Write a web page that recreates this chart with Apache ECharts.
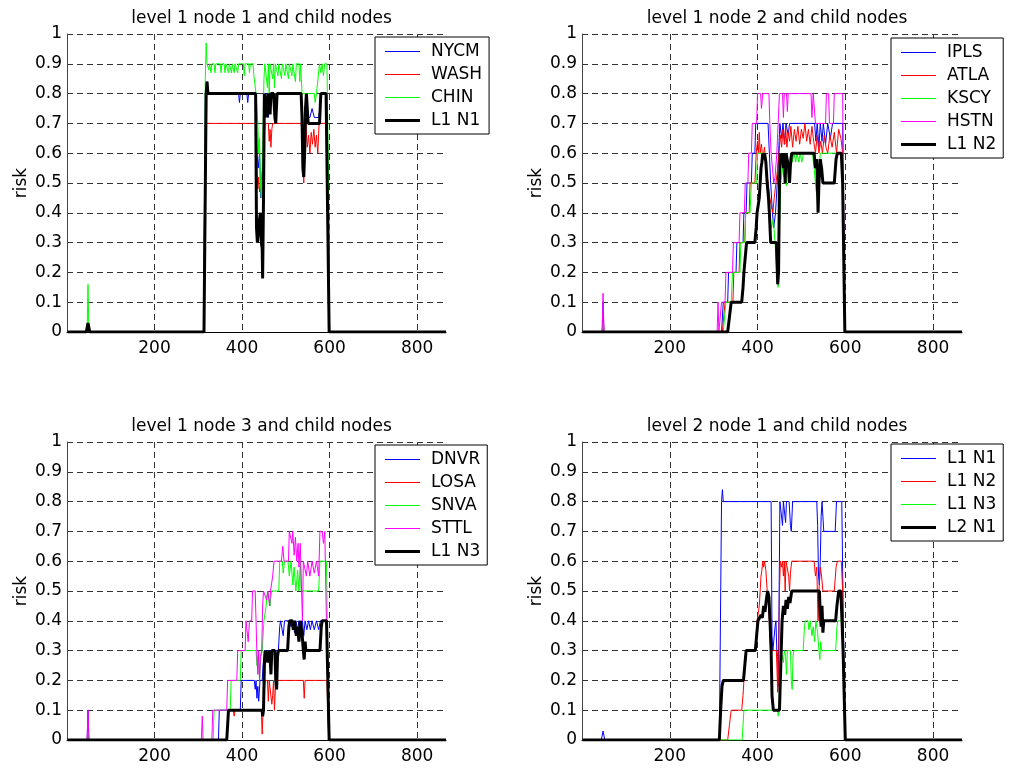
<!DOCTYPE html>
<html>
<head>
<meta charset="utf-8">
<title>Risk by node</title>
<script src="https://cdn.jsdelivr.net/npm/echarts@6/dist/echarts.min.js"></script>
<style>
  html, body { margin: 0; padding: 0; background: #fff; }
  #chart { width: 1011px; height: 769px; }
</style>
</head>
<body>
<div id="chart"></div>
<script>
// Risk over time, [t, risk] pairs. Level-1 node 1 and its child nodes.
const nycm = [[1,0],[46,0],[48,0.03],[50,0],[312,0],[316,0.8],[320,0.84],[323,0.8],[392,0.8],[394,0.77],[396,0.8],[411,0.8],[413,0.77],[415,0.8],[432,0.8],[434,0.6],[437,0.55],[440,0.6],[443,0.45],[446,0.5],[449,0.62],[452,0.8],[458,0.8],[460,0.72],[462,0.8],[472,0.8],[474,0.73],[476,0.8],[535,0.8],[538,0.75],[541,0.55],[543,0.7],[546,0.8],[550,0.72],[555,0.72],[560,0.75],[565,0.72],[575,0.72],[578,0.75],[580,0.8],[594,0.8],[597,0.4],[600,0],[866,0]];
const wash = [[1,0],[46,0],[48,0.02],[50,0],[312,0],[316,0.7],[432,0.7],[434,0.55],[436,0.48],[438,0.52],[440,0.47],[443,0.5],[447,0.55],[450,0.65],[453,0.7],[460,0.7],[462,0.64],[464,0.68],[466,0.62],[468,0.68],[470,0.7],[535,0.7],[538,0.65],[541,0.5],[543,0.65],[546,0.7],[549,0.62],[552,0.66],[555,0.6],[558,0.67],[561,0.63],[564,0.68],[567,0.62],[570,0.66],[573,0.6],[576,0.7],[594,0.7],[598,0.35],[600,0],[866,0]];
const chin = [[1,0],[46,0],[48,0.16],[50,0],[312,0],[314,0.1],[316,0.85],[318,0.97],[320,0.9],[324,0.88],[326,0.9],[329,0.87],[331,0.9],[336,0.9],[338,0.87],[340,0.9],[350,0.9],[352,0.87],[354,0.9],[359,0.9],[361,0.87],[363,0.9],[367,0.9],[369,0.87],[371,0.9],[374,0.9],[376,0.87],[378,0.9],[380,0.9],[382,0.87],[384,0.9],[388,0.9],[390,0.87],[392,0.9],[403,0.9],[405,0.86],[407,0.9],[415,0.9],[417,0.87],[419,0.9],[425,0.9],[427,0.86],[430,0.86],[432,0.8],[436,0.7],[438,0.6],[440,0.65],[442,0.5],[444,0.45],[447,0.6],[450,0.85],[452,0.9],[456,0.9],[458,0.82],[460,0.9],[462,0.8],[464,0.9],[468,0.9],[470,0.85],[472,0.9],[474,0.82],[476,0.9],[480,0.9],[482,0.86],[484,0.9],[488,0.9],[490,0.85],[492,0.9],[496,0.9],[498,0.86],[500,0.9],[504,0.9],[506,0.85],[508,0.9],[512,0.9],[514,0.86],[516,0.9],[520,0.9],[522,0.84],[524,0.9],[530,0.9],[532,0.84],[534,0.9],[537,0.8],[560,0.8],[565,0.8],[567,0.77],[570,0.8],[574,0.8],[577,0.9],[580,0.87],[583,0.9],[586,0.86],[589,0.9],[594,0.9],[598,0.45],[600,0],[866,0]];
const l1n1 = [[1,0],[44,0],[48,0.03],[52,0],[313,0],[318,0.8],[320,0.84],[322,0.8],[431,0.8],[433,0.35],[435,0.3],[438,0.3],[440,0.38],[442,0.4],[444,0.3],[446,0.28],[447,0.18],[449,0.45],[451,0.8],[455,0.8],[457,0.72],[459,0.8],[462,0.8],[464,0.73],[466,0.8],[472,0.8],[475,0.72],[477,0.7],[480,0.8],[535,0.8],[537,0.72],[539,0.55],[541,0.52],[543,0.6],[545,0.75],[547,0.8],[549,0.8],[551,0.7],[577,0.7],[580,0.8],[592,0.8],[599,0],[866,0]];

// Level-1 node 2 and its child nodes.
const ipls = [[1,0],[46,0],[48,0.1],[50,0],[318,0],[322,0.1],[332,0.1],[334,0.2],[351,0.2],[353,0.3],[367,0.3],[369,0.4],[374,0.4],[376,0.5],[386,0.5],[388,0.6],[394,0.6],[396,0.7],[424,0.7],[427,0.6],[430,0.5],[434,0.4],[437,0.35],[441,0.4],[445,0.5],[448,0.6],[451,0.7],[455,0.65],[458,0.7],[462,0.63],[465,0.7],[470,0.66],[473,0.7],[530,0.7],[533,0.64],[536,0.7],[540,0.62],[543,0.7],[547,0.64],[550,0.7],[555,0.63],[560,0.7],[566,0.65],[571,0.7],[594,0.7],[599,0],[866,0]];
const atla = [[1,0],[46,0],[48,0.05],[50,0],[320,0],[326,0.1],[344,0.1],[346,0.2],[358,0.2],[360,0.3],[371,0.3],[373,0.4],[381,0.4],[383,0.5],[394,0.5],[397,0.6],[400,0.64],[402,0.6],[404,0.67],[406,0.6],[409,0.63],[412,0.58],[416,0.62],[420,0.55],[424,0.5],[428,0.45],[432,0.42],[435,0.4],[438,0.45],[442,0.5],[446,0.55],[449,0.6],[452,0.66],[455,0.62],[458,0.68],[461,0.63],[464,0.69],[467,0.62],[470,0.67],[473,0.64],[476,0.69],[480,0.62],[484,0.68],[488,0.64],[492,0.69],[496,0.63],[500,0.68],[504,0.65],[508,0.7],[512,0.64],[516,0.68],[520,0.63],[524,0.69],[528,0.64],[532,0.6],[536,0.66],[540,0.6],[544,0.64],[548,0.6],[552,0.66],[556,0.62],[560,0.6],[565,0.66],[570,0.62],[575,0.67],[580,0.6],[585,0.68],[590,0.65],[594,0.6],[599,0],[866,0]];
const kscy = [[1,0],[46,0],[48,0.03],[50,0],[322,0],[328,0.1],[340,0.1],[343,0.2],[360,0.2],[362,0.3],[371,0.3],[373,0.4],[383,0.4],[386,0.5],[398,0.5],[400,0.6],[418,0.6],[422,0.5],[427,0.4],[432,0.35],[436,0.38],[440,0.3],[444,0.2],[447,0.15],[450,0.35],[453,0.5],[457,0.55],[460,0.52],[463,0.55],[466,0.49],[469,0.55],[473,0.58],[476,0.6],[480,0.57],[483,0.6],[487,0.57],[490,0.6],[494,0.57],[497,0.6],[501,0.57],[505,0.6],[525,0.6],[529,0.55],[533,0.48],[536,0.45],[539,0.5],[543,0.6],[590,0.6],[594,0.55],[599,0],[866,0]];
const hstn = [[1,0],[46,0],[48,0.13],[50,0],[308,0],[310,0.1],[312,0],[316,0],[318,0.1],[326,0.1],[328,0.2],[343,0.2],[345,0.3],[358,0.3],[360,0.4],[370,0.4],[372,0.5],[378,0.5],[380,0.6],[386,0.6],[388,0.7],[398,0.7],[400,0.8],[407,0.8],[409,0.75],[412,0.8],[426,0.8],[428,0.7],[431,0.6],[434,0.55],[437,0.5],[440,0.52],[444,0.6],[447,0.7],[450,0.8],[457,0.8],[459,0.72],[461,0.8],[466,0.8],[468,0.74],[470,0.8],[522,0.8],[524,0.72],[527,0.8],[530,0.8],[532,0.7],[555,0.7],[557,0.8],[562,0.8],[564,0.7],[573,0.7],[575,0.8],[594,0.8],[599,0],[866,0]];
const l1n2 = [[1,0],[332,0],[336,0.05],[340,0.1],[364,0.1],[367,0.15],[369,0.2],[373,0.2],[375,0.3],[394,0.3],[397,0.35],[399,0.4],[402,0.4],[404,0.45],[406,0.5],[408,0.55],[410,0.57],[412,0.6],[414,0.58],[416,0.6],[419,0.57],[422,0.5],[425,0.45],[427,0.4],[430,0.3],[443,0.3],[446,0.16],[448,0.2],[450,0.5],[452,0.6],[455,0.58],[457,0.6],[459,0.55],[461,0.6],[463,0.5],[465,0.6],[468,0.6],[471,0.55],[473,0.5],[475,0.56],[478,0.6],[529,0.6],[532,0.55],[535,0.58],[538,0.4],[540,0.5],[543,0.58],[546,0.55],[549,0.5],[575,0.5],[579,0.58],[582,0.6],[591,0.6],[594,0.5],[599,0],[866,0]];

// Level-1 node 3 and its child nodes.
const dnvr = [[1,0],[46,0],[48,0.1],[50,0],[346,0],[348,0.1],[396,0.1],[398,0.2],[428,0.2],[430,0.17],[432,0.2],[434,0.14],[436,0.18],[438,0.13],[441,0.2],[446,0.2],[448,0.25],[451,0.3],[483,0.3],[486,0.38],[488,0.4],[492,0.4],[494,0.35],[497,0.4],[508,0.4],[512,0.38],[515,0.4],[520,0.36],[523,0.4],[527,0.37],[530,0.4],[535,0.36],[538,0.4],[541,0.35],[544,0.4],[548,0.37],[552,0.4],[556,0.37],[560,0.4],[565,0.37],[570,0.4],[575,0.37],[579,0.4],[593,0.4],[598,0],[866,0]];
const losa = [[1,0],[46,0],[48,0.02],[50,0],[365,0],[368,0.1],[380,0.1],[382,0.08],[384,0.1],[444,0.1],[446,0.02],[448,0.1],[453,0.2],[458,0.2],[460,0.13],[462,0.2],[466,0.2],[468,0.12],[470,0.15],[472,0.2],[474,0.1],[477,0.2],[540,0.2],[542,0.14],[544,0.2],[594,0.2],[598,0],[866,0]];
const snva = [[1,0],[46,0],[48,0.03],[50,0],[334,0],[336,0.1],[373,0.1],[375,0.2],[396,0.2],[398,0.3],[432,0.3],[434,0.25],[437,0.3],[440,0.2],[443,0.28],[446,0.3],[450,0.4],[453,0.4],[455,0.45],[458,0.5],[462,0.5],[464,0.45],[466,0.48],[468,0.5],[484,0.5],[486,0.6],[492,0.6],[494,0.56],[497,0.6],[505,0.6],[508,0.55],[512,0.6],[516,0.52],[519,0.58],[523,0.5],[527,0.57],[530,0.5],[533,0.6],[535,0.5],[575,0.5],[578,0.6],[593,0.6],[598,0],[866,0]];
const sttl = [[1,0],[46,0],[48,0.1],[50,0],[307,0],[309,0.08],[311,0],[331,0],[333,0.1],[365,0.1],[367,0.2],[388,0.2],[390,0.3],[407,0.3],[409,0.4],[412,0.4],[414,0.33],[417,0.4],[422,0.4],[424,0.5],[430,0.5],[432,0.4],[434,0.28],[436,0.22],[438,0.3],[440,0.2],[442,0.28],[445,0.3],[447,0.45],[449,0.5],[453,0.5],[456,0.47],[459,0.5],[463,0.45],[465,0.5],[468,0.5],[470,0.55],[473,0.6],[490,0.6],[493,0.65],[496,0.6],[506,0.6],[508,0.7],[512,0.7],[514,0.66],[516,0.7],[519,0.62],[522,0.68],[525,0.6],[528,0.66],[530,0.58],[533,0.66],[536,0.5],[538,0.4],[540,0.6],[544,0.6],[547,0.55],[550,0.6],[555,0.55],[560,0.6],[565,0.56],[570,0.6],[575,0.55],[578,0.7],[583,0.7],[586,0.66],[589,0.7],[593,0.7],[598,0],[866,0]];
const l1n3 = [[1,0],[365,0],[367,0.05],[369,0.1],[446,0.1],[447,0.08],[449,0.1],[451,0.25],[453,0.3],[457,0.3],[459,0.26],[461,0.3],[464,0.28],[466,0.22],[468,0.3],[475,0.3],[477,0.2],[479,0.17],[481,0.28],[483,0.3],[504,0.3],[507,0.38],[509,0.4],[515,0.4],[517,0.37],[520,0.4],[524,0.35],[527,0.38],[530,0.33],[533,0.4],[537,0.36],[540,0.3],[542,0.27],[544,0.33],[546,0.3],[578,0.3],[581,0.38],[583,0.4],[593,0.4],[599,0],[866,0]];

// Level-2 node 1, built from the three level-1 nodes.
const l2n1 = [[1,0],[313,0],[316,0.1],[319,0.18],[322,0.2],[368,0.2],[371,0.25],[374,0.3],[395,0.3],[398,0.35],[401,0.4],[405,0.4],[408,0.42],[411,0.41],[414,0.45],[417,0.43],[420,0.47],[423,0.5],[426,0.48],[429,0.38],[431,0.3],[433,0.15],[436,0.1],[450,0.1],[452,0.2],[454,0.3],[456,0.4],[459,0.45],[462,0.42],[465,0.47],[468,0.44],[471,0.48],[474,0.46],[478,0.5],[541,0.5],[543,0.42],[545,0.38],[547,0.45],[549,0.36],[551,0.4],[578,0.4],[581,0.45],[585,0.5],[590,0.5],[595,0.3],[600,0],[866,0]];

const titles = ['level 1 node 1 and child nodes', 'level 1 node 2 and child nodes',
                'level 1 node 3 and child nodes', 'level 2 node 1 and child nodes'];
const panelSeries = [
  [['NYCM', nycm], ['WASH', wash], ['CHIN', chin], ['L1 N1', l1n1]],
  [['IPLS', ipls], ['ATLA', atla], ['KSCY', kscy], ['HSTN', hstn], ['L1 N2', l1n2]],
  [['DNVR', dnvr], ['LOSA', losa], ['SNVA', snva], ['STTL', sttl], ['L1 N3', l1n3]],
  [['L1 N1', l1n1], ['L1 N2', l1n2], ['L1 N3', l1n3], ['L2 N1', l2n1]]
];
const X_MAX = 866;

const FONT = 'DejaVu Sans, Liberation Sans, Arial, sans-serif';
const FS = 17;
const COLORS = ['#0000ff', '#ff0000', '#00ff00', '#ff00ff'];
// Legend keys: flat bars, 1 px for child nodes and 3 px for the parent node
const THIN_KEY = 'path://M0 0H35V1H0Z';
const THICK_KEY = 'path://M0 0H35V3H0Z';

// Plot boxes, in pixels: [left, top, width, height]
const boxes = [[67, 34, 379, 298], [582, 34, 380, 298], [67, 442, 379, 298], [582, 442, 380, 298]];
const legendPos = [[375, 37], [891, 38], [375, 445], [891, 444]];

const grid = [], xAxis = [], yAxis = [], series = [], title = [], legend = [];

panelSeries.forEach((list, p) => {
  const [l, t, w, h] = boxes[p];
  grid.push({ left: l, top: t, width: w, height: h, containLabel: false });
  title.push({
    text: titles[p], left: l + w / 2, top: t - 29, textAlign: 'center',
    textStyle: { fontFamily: FONT, fontSize: FS, fontWeight: 'normal', color: '#000' }
  });
  xAxis.push({
    gridIndex: p, type: 'value', min: 0, max: X_MAX, interval: 200,
    axisLine: { show: true, onZero: false, lineStyle: { color: '#000', width: 1 } },
    axisTick: { show: false },
    axisLabel: { showMinLabel: false, showMaxLabel: false, margin: 8,
                 fontFamily: FONT, fontSize: FS, color: '#000' },
    splitLine: { show: true, showMinLine: false, showMaxLine: false,
                 lineStyle: { color: '#333', type: [6, 4], width: 1 } }
  });
  yAxis.push({
    gridIndex: p, type: 'value', min: 0, max: 1, interval: 0.1,
    name: 'risk', nameLocation: 'middle', nameGap: 37, nameRotate: 90,
    nameTextStyle: { fontFamily: FONT, fontSize: FS, color: '#000' },
    axisLine: { show: true, lineStyle: { color: '#444', width: 1 } },
    axisTick: { show: false },
    axisLabel: { margin: 5, fontFamily: FONT, fontSize: FS, color: '#000' },
    splitLine: { show: true, showMinLine: false,
                 lineStyle: { color: '#333', type: [6, 4], width: 1 } }
  });
  const legendData = [];
  list.forEach(([name, data], i) => {
    const last = i === list.length - 1;
    const color = last ? '#000' : COLORS[i];
    const width = last ? 3 : 1;
    series.push({
      type: 'line', name, data, xAxisIndex: p, yAxisIndex: p,
      symbol: 'none', animation: false, z: last ? 3 : 2,
      lineStyle: { color, width }, itemStyle: { color }
    });
    legendData.push({
      name, icon: last ? THICK_KEY : THIN_KEY,
      itemStyle: { color, borderWidth: 0, opacity: 1 }
    });
  });
  legend.push({
    orient: 'vertical', left: legendPos[p][0], top: legendPos[p][1],
    data: legendData, selectedMode: false,
    backgroundColor: '#fff', borderColor: '#000', borderWidth: 1, borderRadius: 0,
    padding: [6, 7, 5, 10], itemWidth: 35, itemHeight: 17, itemGap: 6,
    textStyle: { fontFamily: FONT, fontSize: FS, color: '#000', lineHeight: 17, padding: [0, 0, 0, 6] }
  });
});

const chart = echarts.init(document.getElementById('chart'), null, { renderer: 'canvas' });
chart.setOption({
  animation: false,
  backgroundColor: '#fff',
  title, grid, xAxis, yAxis, series, legend
});
</script>
</body>
</html>
